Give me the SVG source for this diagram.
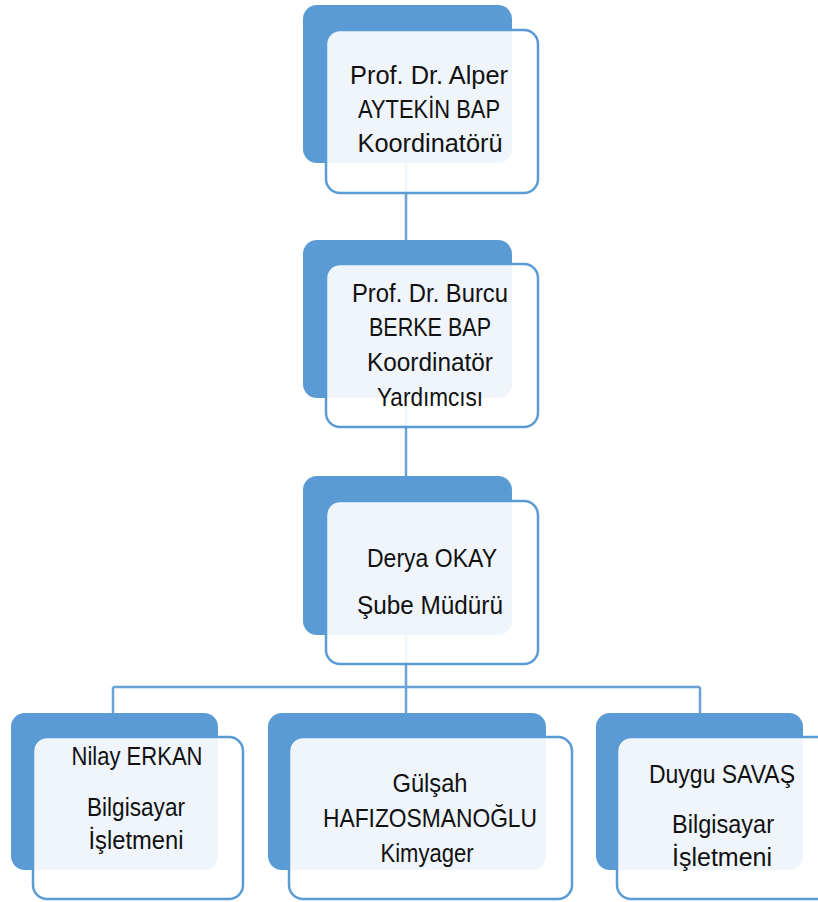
<svg xmlns="http://www.w3.org/2000/svg" width="818" height="902" viewBox="0 0 818 902">
<style>
.back{fill:#5B9BD5;}
.front{fill:#FFFFFF;fill-opacity:0.9;stroke:#5B9BD5;stroke-width:2.5;}
.conn{fill:none;stroke:#6AA2D8;stroke-width:2.5;}
text{font-family:"Liberation Sans",Arial,sans-serif;font-size:26.5px;fill:#111;text-anchor:middle;}
</style>
<rect width="818" height="902" fill="#FFFFFF"/>
<g id="connectors">
<path class="conn" d="M406,160 V242"/>
<path class="conn" d="M406,396 V478"/>
<path class="conn" d="M406,633 V687"/>
<path class="conn" d="M113,687 H700"/>
<path class="conn" d="M113,687 V715"/>
<path class="conn" d="M406,687 V715"/>
<path class="conn" d="M700,687 V715"/>
</g>
<g id="node1">
<rect class="back" x="303" y="5" width="209" height="158" rx="14"/>
<rect class="front" x="326" y="30" width="212" height="163" rx="14"/>
<text x="429" y="84" textLength="158" lengthAdjust="spacingAndGlyphs">Prof.  Dr. Alper</text>
<text x="429" y="118" textLength="142" lengthAdjust="spacingAndGlyphs">AYTEKİN BAP</text>
<text x="430" y="152" textLength="145" lengthAdjust="spacingAndGlyphs">Koordinatörü</text>
</g>
<g id="node2">
<rect class="back" x="303" y="240" width="209" height="158" rx="14"/>
<rect class="front" x="326" y="264" width="212" height="163" rx="14"/>
<text x="430" y="302" textLength="156" lengthAdjust="spacingAndGlyphs">Prof. Dr. Burcu</text>
<text x="430" y="336" textLength="122" lengthAdjust="spacingAndGlyphs">BERKE BAP</text>
<text x="430" y="371" textLength="126" lengthAdjust="spacingAndGlyphs">Koordinatör</text>
<text x="430" y="406" textLength="106" lengthAdjust="spacingAndGlyphs">Yardımcısı</text>
</g>
<g id="node3">
<rect class="back" x="303" y="476" width="209" height="159" rx="14"/>
<rect class="front" x="326" y="501" width="212" height="163" rx="14"/>
<text x="432" y="567" textLength="130" lengthAdjust="spacingAndGlyphs">Derya OKAY</text>
<text x="430" y="614" textLength="146" lengthAdjust="spacingAndGlyphs">Şube Müdürü</text>
</g>
<g id="node4">
<rect class="back" x="11" y="713" width="207" height="157" rx="14"/>
<rect class="front" x="33" y="737" width="210" height="162" rx="14"/>
<text x="137" y="765" textLength="131" lengthAdjust="spacingAndGlyphs">Nilay ERKAN</text>
<text x="136" y="816" textLength="98" lengthAdjust="spacingAndGlyphs">Bilgisayar</text>
<text x="136" y="849" textLength="95" lengthAdjust="spacingAndGlyphs">İşletmeni</text>
</g>
<g id="node5">
<rect class="back" x="268" y="713" width="278" height="157" rx="14"/>
<rect class="front" x="289" y="737" width="283" height="162" rx="14"/>
<text x="430" y="792" textLength="75" lengthAdjust="spacingAndGlyphs">Gülşah</text>
<text x="430" y="827" textLength="214" lengthAdjust="spacingAndGlyphs">HAFIZOSMANOĞLU</text>
<text x="427" y="862" textLength="93" lengthAdjust="spacingAndGlyphs">Kimyager</text>
</g>
<g id="node6">
<rect class="back" x="596" y="713" width="207" height="157" rx="14"/>
<rect class="front" x="617" y="737" width="214" height="162" rx="14"/>
<text x="722" y="783" textLength="146" lengthAdjust="spacingAndGlyphs">Duygu SAVAŞ</text>
<text x="723" y="833" textLength="102" lengthAdjust="spacingAndGlyphs">Bilgisayar</text>
<text x="722" y="866" textLength="100" lengthAdjust="spacingAndGlyphs">İşletmeni</text>
</g>
</svg>
